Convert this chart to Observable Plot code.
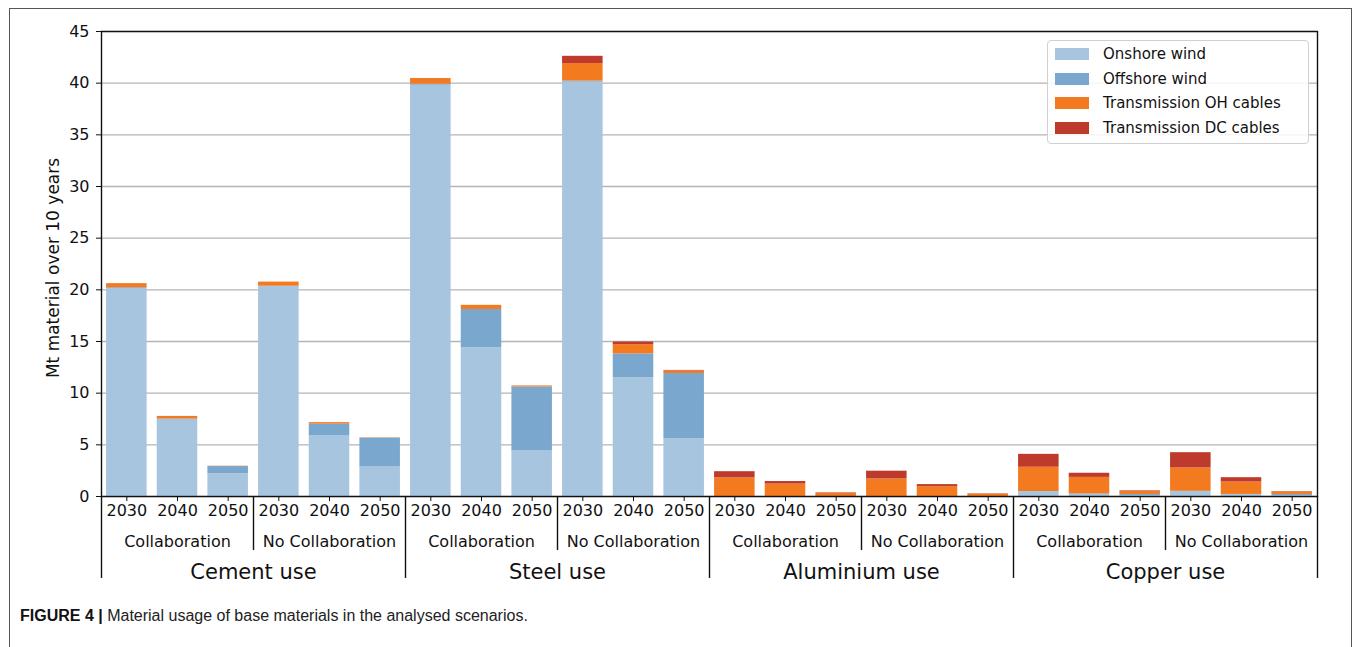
<!DOCTYPE html>
<html>
<head>
<meta charset="utf-8">
<script src="https://cdn.jsdelivr.net/npm/d3@7"></script>
<script src="https://cdn.jsdelivr.net/npm/@observablehq/plot@0.6"></script>
<style>
  html, body { margin: 0; padding: 0; background: #fff; }
  body { width: 1355px; height: 647px; overflow: hidden; position: relative; font-family: "DejaVu Sans", sans-serif; }
  #border { position: absolute; left: 9px; top: 8px; width: 1343px; height: 700px; border: 1px solid #555; box-sizing: border-box; }
  #chart { position: absolute; left: 0; top: 0; }
  #legend { position: absolute; left: 1047px; top: 40px; width: 262px; height: 104px; box-sizing: border-box;
            border: 1px solid #d0d0d0; border-radius: 4px; background: rgba(255,255,255,0.85); }
  .lg-row { position: absolute; left: 0; height: 20px; display: flex; align-items: center; font-size: 15px; color: #111; }
  .lg-sw { width: 34px; height: 12px; margin-left: 7px; margin-right: 14px; }
  #caption { position: absolute; left: 20px; top: 607px; font-family: "Liberation Sans", Arial, sans-serif; font-size: 16px; color: #222; white-space: nowrap; }
  #caption b { color: #111; }
</style>
</head>
<body>
<div id="border"></div>
<div id="chart"></div>
<div id="legend"></div>
<div id="caption"><b>FIGURE 4 |</b> Material usage of base materials in the analysed scenarios.</div>
<script>
// ---- data ----
const materials = ["Cement use", "Steel use", "Aluminium use", "Copper use"];
const scenarios = ["Collaboration", "No Collaboration"];
const years = ["2030", "2040", "2050"];
const series = ["Onshore wind", "Offshore wind", "Transmission OH cables", "Transmission DC cables"];
const colors = ["#a7c5df", "#7aa7cd", "#f47a20", "#bd3a2c"];
const yTicks = [0, 5, 10, 15, 20, 25, 30, 35, 40, 45];
const yLabel = "Mt material over 10 years";

// values in order material -> scenario -> year
const onshore  = [20.1, 7.4, 2.2,  20.3, 5.9, 2.85,  39.8, 14.4, 4.4,  40.1, 11.5, 5.6,  0, 0, 0,  0, 0, 0,  0.48, 0.2, 0.1,  0.5, 0.15, 0.1];
const offshore = [0.1, 0.1, 0.7,   0.05, 1.1, 2.8,   0.1, 3.7, 6.2,    0.1, 2.3, 6.3,    0, 0, 0,  0, 0, 0,  0, 0.05, 0.1,      0, 0.05, 0.1];
const ohCables = [0.4, 0.25, 0.03, 0.4, 0.15, 0.03,  0.55, 0.4, 0.1,   1.7, 0.9, 0.25,   1.8, 1.2, 0.3,  1.7, 0.95, 0.22,  2.35, 1.6, 0.3,  2.26, 1.2, 0.25];
const dcCables = [0, 0, 0,         0, 0, 0,          0, 0, 0,          0.7, 0.25, 0.05,  0.6, 0.25, 0.05,  0.75, 0.2, 0.04,  1.25, 0.4, 0.05,  1.48, 0.42, 0.03];
const seriesValues = [onshore, offshore, ohCables, dcCables];

// ---- build tables ----
const bars = [];
for (const m of materials) for (const s of scenarios) for (const y of years) bars.push({material: m, scenario: s, year: y, key: `${m}|${s}|${y}`});
const keys = bars.map(d => d.key);
const long = [];
bars.forEach((b, i) => series.forEach((s, j) => long.push({key: b.key, series: s, value: seriesValues[j][i]})));

const scenarioCenters = bars.filter(d => d.year === "2040");
const scenarioSplits = bars.filter(d => d.scenario === scenarios[1] && d.year === "2030");
const materialStarts = bars.filter(d => d.scenario === scenarios[0] && d.year === "2030");
const materialCenters = bars.filter(d => d.scenario === scenarios[0] && d.year === "2050");
const lastBar = [bars[bars.length - 1]];

const W = 1355, H = 600, mL = 101, mR = 38, mT = 31, mB = 104;
const step = (W - mL - mR) / keys.length;

const font = "DejaVu Sans";
const chart = Plot.plot({
  width: W, height: H,
  marginLeft: mL, marginRight: mR, marginTop: mT, marginBottom: mB,
  style: {fontFamily: font, background: "transparent", overflow: "visible", color: "#111"},
  x: {domain: keys, paddingInner: 0.2, paddingOuter: 0.1, round: false, axis: null},
  y: {domain: [0, 45], axis: null},
  color: {domain: series, range: colors},
  marks: [
    Plot.gridY(yTicks, {stroke: "#b5b5b5", strokeOpacity: 1, strokeWidth: 1.4}),
    Plot.barY(long, Plot.stackY({x: "key", y: "value", fill: "series", order: series})),
    Plot.axisY(yTicks, {tickSize: 5, tickPadding: 7, fontSize: 16, label: null, stroke: "#111"}),
    Plot.text([yLabel], {frameAnchor: "left", textAnchor: "middle", rotate: -90, dx: -48, dy: 4, fontSize: 17, fill: "#111"}),
    // x ticks and labels
    Plot.axisX({tickSize: 5, tickFormat: () => "", label: null, stroke: "#111"}),
    Plot.text(bars, {x: "key", text: "year", frameAnchor: "bottom", dy: 19, fontSize: 16, fill: "#111"}),
    Plot.text(scenarioCenters, {x: "key", text: "scenario", frameAnchor: "bottom", dy: 50, fontSize: 16, fill: "#111"}),
    Plot.text(materialCenters, {x: "key", text: "material", frameAnchor: "bottom", dx: step / 2, dy: 82, fontSize: 21, fill: "#111"}),
    // group separators
    Plot.ruleX(scenarioSplits, {x: "key", y1: 0, y2: 0, dx: -step / 2, insetBottom: -54, stroke: "#111", strokeWidth: 1.4}),
    Plot.ruleX(materialStarts, {x: "key", y1: 0, y2: 0, dx: -step / 2, insetBottom: -82, stroke: "#111", strokeWidth: 1.4}),
    Plot.ruleX(lastBar, {x: "key", y1: 0, y2: 0, dx: step / 2, insetBottom: -82, stroke: "#111", strokeWidth: 1.4}),
    Plot.frame({stroke: "#111", strokeWidth: 1.4})
  ]
});
document.getElementById("chart").appendChild(chart);

// legend
const lg = document.getElementById("legend");
series.forEach((s, i) => {
  const row = document.createElement("div");
  row.className = "lg-row";
  row.style.top = (3 + i * 24.5) + "px";
  const sw = document.createElement("div");
  sw.className = "lg-sw";
  sw.style.background = colors[i];
  const tx = document.createElement("span");
  tx.textContent = s;
  row.appendChild(sw); row.appendChild(tx);
  lg.appendChild(row);
});
</script>
</body>
</html>
